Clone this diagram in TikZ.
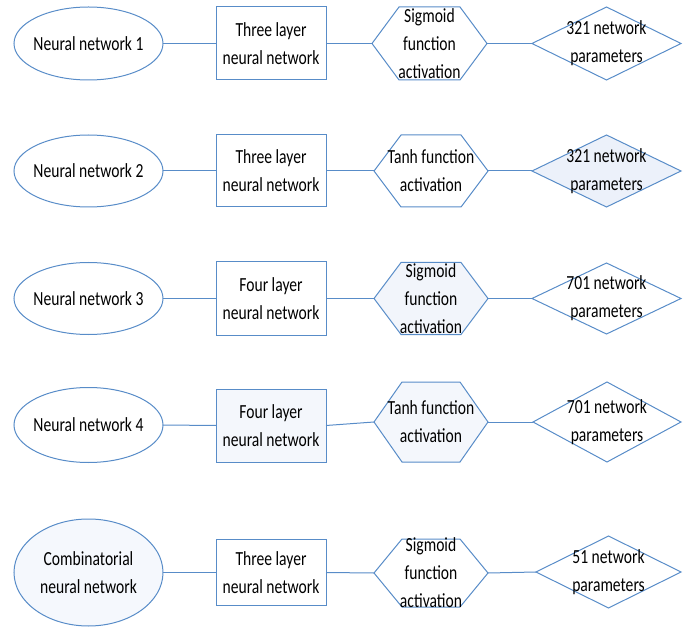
\documentclass[tikz,border=0pt]{standalone}
\usepackage{fontspec}
\setmainfont{Carlito}[FakeStretch=0.78]
\usetikzlibrary{shapes.geometric}
\definecolor{edge}{RGB}{88,140,200}
\definecolor{fillA}{RGB}{236,241,250}
\definecolor{fillB}{RGB}{242,245,251}
\definecolor{fillC}{RGB}{244,247,252}
\definecolor{fillD}{RGB}{245,248,253}
\tikzset{
  outline/.style={draw=edge, line width=1pt, line join=miter, inner sep=0pt, outer sep=0pt},
  ellbox/.style={outline, ellipse},
  rectbox/.style={outline, rectangle},
  diabox/.style={outline, diamond},
  hexslot/.style={rectangle, draw=none, inner sep=0pt, outer sep=0pt},
  link/.style={draw=edge, line width=1pt},
  txt/.style={align=center, font=\fontsize{20}{28}\selectfont, text=black, inner sep=0pt},
}
\newcommand\hexoutline[3]{%
  \path[outline, fill=#3] (#1.west) -- ([xshift=#2]#1.north west) -- ([xshift=-#2]#1.north east)
    -- (#1.east) -- ([xshift=-#2]#1.south east) -- ([xshift=#2]#1.south west) -- cycle;}
\begin{document}
\begin{tikzpicture}[x=1pt,y=-1pt]
\useasboundingbox (0,0) rectangle (688,628);
% Row 1
\node[ellbox, minimum width=149pt, minimum height=73pt] (e1) at (88.5,43.5) {};
\node[rectbox, minimum width=110pt, minimum height=73pt] (r1) at (271,43.5) {};
\node[hexslot, minimum width=115pt, minimum height=73pt] (h1) at (429.5,43.5) {};
\hexoutline{h1}{27pt}{white}
\node[diabox, minimum width=149pt, minimum height=73pt] (d1) at (606.5,43.5) {};
% Row 2
\node[ellbox, minimum width=149pt, minimum height=72pt] (e2) at (88.5,171) {};
\node[rectbox, minimum width=110pt, minimum height=72pt] (r2) at (271,171) {};
\node[hexslot, minimum width=114pt, minimum height=72pt] (h2) at (431,171) {};
\hexoutline{h2}{27pt}{white}
\node[diabox, fill=fillA, minimum width=149pt, minimum height=72pt] (d2) at (606.5,171) {};
% Row 3
\node[ellbox, minimum width=149pt, minimum height=72pt] (e3) at (88.5,298.5) {};
\node[rectbox, minimum width=110pt, minimum height=73pt] (r3) at (271,298.5) {};
\node[hexslot, minimum width=114pt, minimum height=72pt] (h3) at (431,298.5) {};
\hexoutline{h3}{27pt}{fillB}
\node[diabox, minimum width=149pt, minimum height=71pt] (d3) at (606.5,298.5) {};
% Row 4
\node[ellbox, minimum width=149pt, minimum height=75pt] (e4) at (88.5,425) {};
\node[rectbox, fill=fillC, minimum width=110pt, minimum height=73pt] (r4) at (271,425.5) {};
\node[hexslot, minimum width=114pt, minimum height=80pt] (h4) at (431,422) {};
\hexoutline{h4}{28pt}{fillC}
\node[diabox, minimum width=148pt, minimum height=80pt] (d4) at (607,422) {};
% Row 5
\node[ellbox, fill=fillD, minimum width=149pt, minimum height=107pt] (e5) at (88.5,572.5) {};
\node[rectbox, minimum width=110pt, minimum height=66pt] (r5) at (271,572.5) {};
\node[hexslot, minimum width=114pt, minimum height=68pt] (h5) at (431,573) {};
\hexoutline{h5}{28pt}{white}
\node[diabox, minimum width=145pt, minimum height=72pt] (d5) at (608.5,572) {};
% Connectors
\foreach \i in {1,...,5}{
  \draw[link] (e\i.east) -- (r\i.west);
  \draw[link] (r\i.east) -- (h\i.west);
  \draw[link] (h\i.east) -- (d\i.west);
}
% Texts
\node[txt] (e1t) at (e1.center) {Neural network 1};
\node[txt] (r1t) at (r1.center) {Three layer\\neural network};
\node[txt] (h1t) at (h1.center) {Sigmoid\\function\\activation};
\node[txt] (d1t) at (d1.center) {321 network\\parameters};
\node[txt] (e2t) at (e2.center) {Neural network 2};
\node[txt] (r2t) at (r2.center) {Three layer\\neural network};
\node[txt] (h2t) at (h2.center) {Tanh function\\activation};
\node[txt] (d2t) at (d2.center) {321 network\\parameters};
\node[txt] (e3t) at (e3.center) {Neural network 3};
\node[txt] (r3t) at (r3.center) {Four layer\\neural network};
\node[txt] (h3t) at (h3.center) {Sigmoid\\function\\activation};
\node[txt] (d3t) at (d3.center) {701 network\\parameters};
\node[txt] (e4t) at (e4.center) {Neural network 4};
\node[txt] (r4t) at (r4.center) {Four layer\\neural network};
\node[txt] (h4t) at (h4.center) {Tanh function\\activation};
\node[txt] (d4t) at (d4.center) {701 network\\parameters};
\node[txt] (e5t) at (e5.center) {Combinatorial\\neural network};
\node[txt] (r5t) at (r5.center) {Three layer\\neural network};
\node[txt] (h5t) at (h5.center) {Sigmoid\\function\\activation};
\node[txt] (d5t) at (d5.center) {51 network\\parameters};
\end{tikzpicture}
\end{document}
